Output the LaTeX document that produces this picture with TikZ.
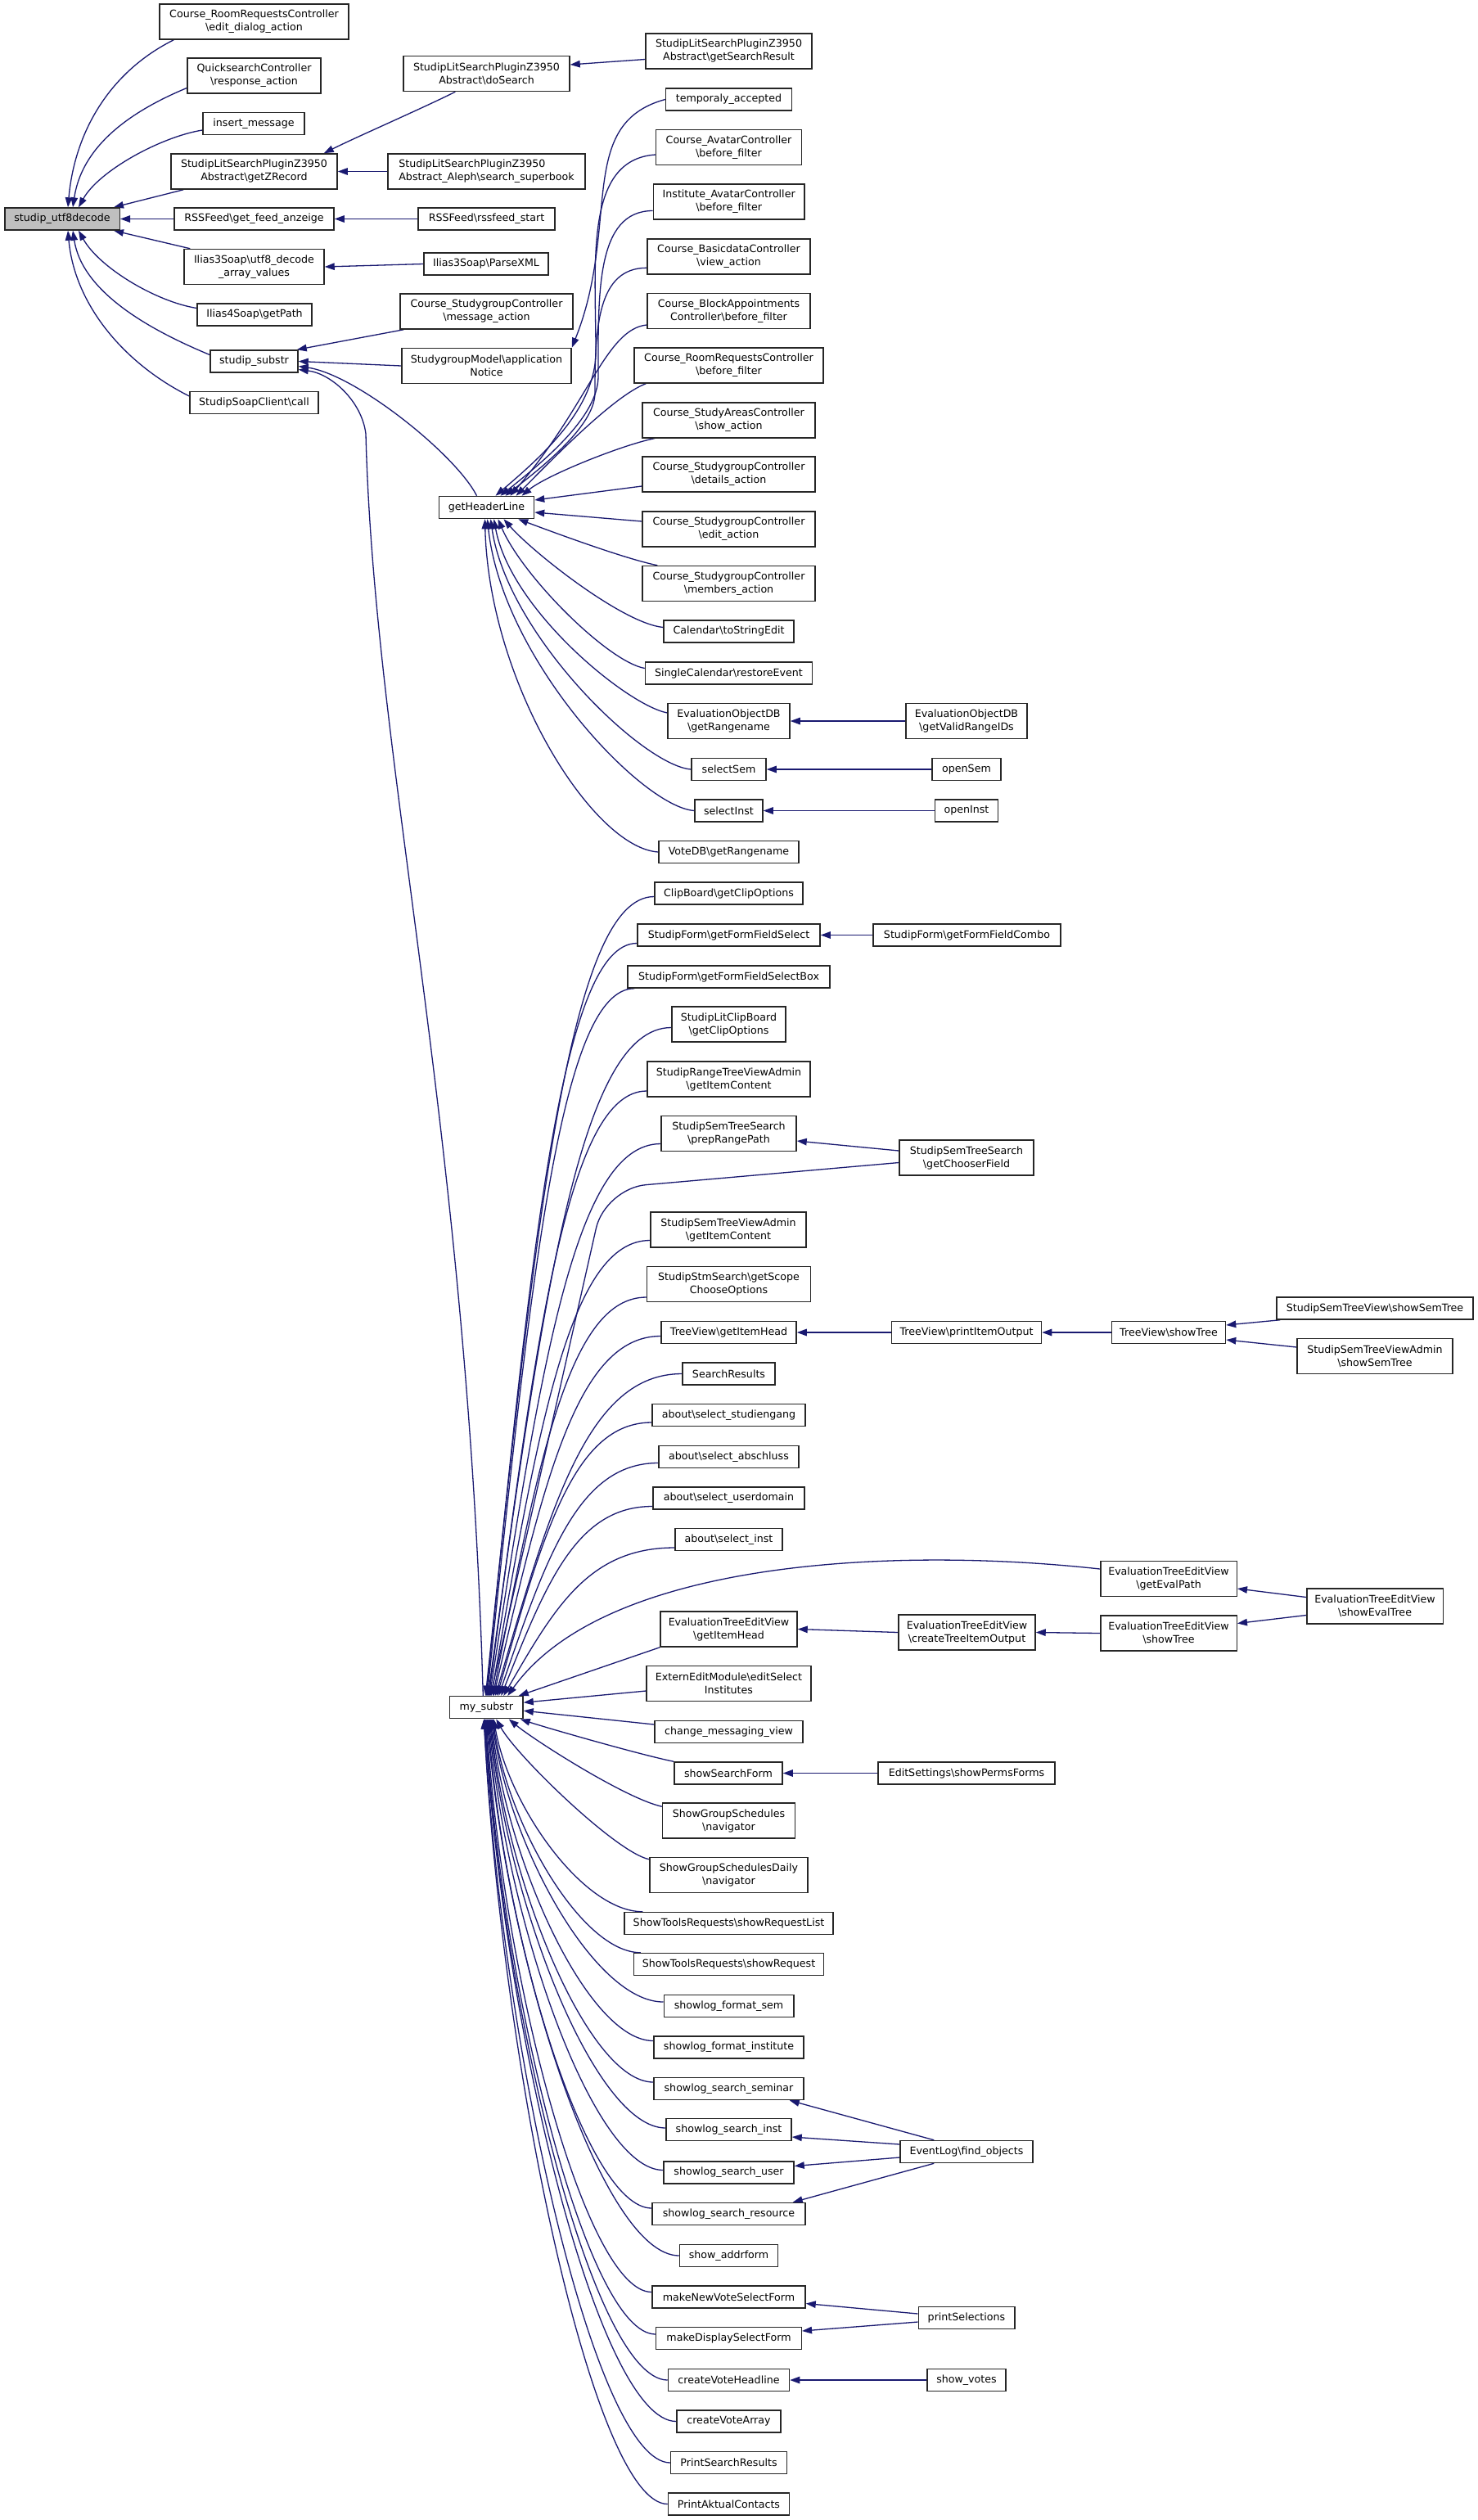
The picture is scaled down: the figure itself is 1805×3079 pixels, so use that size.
\documentclass[tikz,border=0pt]{standalone}
\usepackage{fontspec}
\setmainfont{DejaVu Sans}
\usetikzlibrary{arrows.meta,calc,backgrounds}
\definecolor{edgeblue}{HTML}{191970}
\definecolor{rootgray}{HTML}{BFBFBF}
\newcommand\bsl{\textbackslash}
\newcommand\fnode[6]{\node[fn, minimum width=#4pt, minimum height=#5pt] (#1) at (#2,-#3) {#6};}
\newcommand\fanedge[6]{\draw[call] let \p1=(#1), \p2=(#2) in (\p1) .. controls ({\x1-#3*(\x1-\x2)},{\y1+#4*(\y2-\y1)}) and ({\x2+#5*(\x1-\x2)},{\y2+#6*(\y1-\y2)}) .. (\p2);}
\newcommand\upfan[2]{\fanedge{#1}{#2}{0.5}{0}{0.3}{0.6}}
\newcommand\lowfan[2]{\fanedge{#1}{#2}{0.4}{0}{0.1}{0.45}}
\begin{document}
\begin{tikzpicture}[x=1pt,y=1pt,
  fn/.style={draw=black!85, line width=1.5pt, fill=white, rectangle, inner sep=0pt, align=center, font=\fontsize{12.64pt}{16pt}\selectfont, text=black},
  call/.style={draw=edgeblue, line width=1.3pt, -{Triangle[length=12pt,width=8.5pt]}}]
\useasboundingbox (0,0) rectangle (1805,-3079);
% root
\node[fn, fill=rootgray, minimum width=140.5pt, minimum height=27pt] (u) at (76,-267.5) {studip\_utf8decode};
% column 1
\fnode{a1}{310.5}{26.5}{231}{43}{Course\_RoomRequestsController\\\bsl edit\_dialog\_action}
\fnode{a2}{310.5}{92.5}{163}{43}{QuicksearchController\\\bsl response\_action}
\fnode{a3}{310}{151}{124}{27}{insert\_message}
\fnode{a4}{310.5}{209.5}{203}{43}{StudipLitSearchPluginZ3950\\Abstract\bsl getZRecord}
\fnode{a5}{310.5}{267.5}{195}{27}{RSSFeed\bsl get\_feed\_anzeige}
\fnode{a6}{310.5}{326}{171}{43}{Ilias3Soap\bsl utf8\_decode\\\_array\_values}
\fnode{a7}{311}{384.5}{140}{27}{Ilias4Soap\bsl getPath}
\fnode{ss}{310.5}{441.5}{107}{27}{studip\_substr}
\fnode{a9}{310.5}{492}{157}{27}{StudipSoapClient\bsl call}
% column 2
\fnode{b1}{594.5}{90}{203}{43}{StudipLitSearchPluginZ3950\\Abstract\bsl doSearch}
\node[fn, align=left, minimum width=241pt, minimum height=43pt] (b2) at (594.5,-209.5) {StudipLitSearchPluginZ3950\\Abstract\_Aleph\bsl search\_superbook};
\fnode{b3}{594.5}{267.5}{167}{27}{RSSFeed\bsl rssfeed\_start}
\fnode{b4}{594}{322.5}{152}{27}{Ilias3Soap\bsl ParseXML}
\fnode{b5}{594.5}{380.5}{211}{43}{Course\_StudygroupController\\\bsl message\_action}
\fnode{b6}{594.5}{447}{207}{43}{StudygroupModel\bsl application\\Notice}
\fnode{gh}{594.5}{620}{116}{27}{getHeaderLine}
\fnode{ms}{594.3}{2086.2}{89.5}{27}{my\_substr}
% column 3 (getHeaderLine callers)
\fnode{gsr}{890.5}{62.5}{203}{43}{StudipLitSearchPluginZ3950\\Abstract\bsl getSearchResult}
\fnode{h1}{890.5}{121.5}{154}{27}{temporaly\_accepted}
\fnode{h2}{890.5}{180}{178}{43}{Course\_AvatarController\\\bsl before\_filter}
\fnode{h3}{890.7}{246.5}{184.5}{43}{Institute\_AvatarController\\\bsl before\_filter}
\fnode{h4}{890.5}{313.3}{199}{43}{Course\_BasicdataController\\\bsl view\_action}
\fnode{h5}{890.5}{380}{199}{43}{Course\_BlockAppointments\\Controller\bsl before\_filter}
\fnode{h6}{890.5}{446.5}{231}{43}{Course\_RoomRequestsController\\\bsl before\_filter}
\fnode{h7}{890.5}{513.3}{211}{43}{Course\_StudyAreasController\\\bsl show\_action}
\fnode{h8}{890.5}{579.5}{211}{43}{Course\_StudygroupController\\\bsl details\_action}
\fnode{h9}{890.5}{646.5}{211}{43}{Course\_StudygroupController\\\bsl edit\_action}
\fnode{h10}{890.5}{713}{211}{43}{Course\_StudygroupController\\\bsl members\_action}
\fnode{h11}{890.5}{771.5}{159}{27}{Calendar\bsl toStringEdit}
\fnode{h12}{890.5}{822.5}{204}{27}{SingleCalendar\bsl restoreEvent}
\fnode{h13}{890.5}{881}{149}{43}{EvaluationObjectDB\\\bsl getRangename}
\fnode{h14}{890.5}{940}{91}{27}{selectSem}
\fnode{h15}{890.5}{990.5}{83}{27}{selectInst}
\fnode{h16}{890.5}{1041}{171}{27}{VoteDB\bsl getRangename}
\fnode{g13}{1181}{881}{148}{43}{EvaluationObjectDB\\\bsl getValidRangeIDs}
\fnode{g14}{1181}{940}{84}{27}{openSem}
\fnode{g15}{1181}{990.5}{77.4}{27}{openInst}
% my_substr callers
\fnode{m1}{890.5}{1091.5}{181}{27}{ClipBoard\bsl getClipOptions}
\fnode{m2}{890.5}{1142.5}{223}{27}{StudipForm\bsl getFormFieldSelect}
\fnode{n2}{1181.5}{1142.5}{229}{27}{StudipForm\bsl getFormFieldCombo}
\fnode{m3}{890.5}{1193.5}{247}{27}{StudipForm\bsl getFormFieldSelectBox}
\fnode{m4}{890.5}{1251.5}{139}{43}{StudipLitClipBoard\\\bsl getClipOptions}
\fnode{m5}{890.5}{1318.5}{199}{43}{StudipRangeTreeViewAdmin\\\bsl getItemContent}
\fnode{m6}{890.5}{1385}{165}{43}{StudipSemTreeSearch\\\bsl prepRangePath}
\fnode{n6}{1181}{1414.5}{164}{43}{StudipSemTreeSearch\\\bsl getChooserField}
\fnode{m7}{890}{1502.5}{190}{43}{StudipSemTreeViewAdmin\\\bsl getItemContent}
\fnode{m8}{890.5}{1569}{200}{43}{StudipStmSearch\bsl getScope\\ChooseOptions}
\fnode{m9}{890.5}{1628}{165}{27}{TreeView\bsl getItemHead}
\fnode{n9}{1181}{1628}{183}{27}{TreeView\bsl printItemOutput}
\fnode{p9}{1428}{1628}{139}{27}{TreeView\bsl showTree}
\fnode{q9a}{1680}{1598.5}{240}{27}{StudipSemTreeView\bsl showSemTree}
\fnode{q9b}{1680}{1657}{190}{43}{StudipSemTreeViewAdmin\\\bsl showSemTree}
\fnode{m10}{890.5}{1678.5}{113}{27}{SearchResults}
\fnode{m11}{890.5}{1729}{187}{27}{about\bsl select\_studiengang}
\fnode{m12}{890.5}{1780}{171}{27}{about\bsl select\_abschluss}
\fnode{m13}{890.5}{1830.5}{185}{27}{about\bsl select\_userdomain}
\fnode{m14}{890.5}{1881}{131}{27}{about\bsl select\_inst}
\fnode{p14}{1428}{1929}{166.5}{43}{EvaluationTreeEditView\\\bsl getEvalPath}
\fnode{q15}{1680}{1962.5}{166.5}{43}{EvaluationTreeEditView\\\bsl showEvalTree}
\fnode{m15}{890.5}{1990.5}{167}{43}{EvaluationTreeEditView\\\bsl getItemHead}
\fnode{n15}{1181.5}{1994.5}{167}{43}{EvaluationTreeEditView\\\bsl createTreeItemOutput}
\fnode{p15}{1428}{1995.5}{166.5}{43}{EvaluationTreeEditView\\\bsl showTree}
\fnode{m16}{890.5}{2057}{201}{43}{ExternEditModule\bsl editSelect\\Institutes}
\fnode{m17}{890.5}{2116}{181}{27}{change\_messaging\_view}
\fnode{m18}{890}{2166.5}{132}{27}{showSearchForm}
\fnode{n18}{1181}{2166.5}{216}{27}{EditSettings\bsl showPermsForms}
\fnode{m19}{890.5}{2224.5}{162}{43}{ShowGroupSchedules\\\bsl navigator}
\fnode{m20}{890.5}{2291}{193}{43}{ShowGroupSchedulesDaily\\\bsl navigator}
\fnode{m21}{890.5}{2350}{255}{27}{ShowToolsRequests\bsl showRequestList}
\fnode{m22}{890.5}{2400}{232}{27}{ShowToolsRequests\bsl showRequest}
\fnode{m23}{890.5}{2451}{158.5}{27}{showlog\_format\_sem}
\fnode{m24}{890.5}{2501.5}{183}{27}{showlog\_format\_institute}
\fnode{m25}{890.5}{2552}{183}{27}{showlog\_search\_seminar}
\fnode{m26}{890.5}{2602}{153}{27}{showlog\_search\_inst}
\fnode{n26}{1181}{2629}{162}{27}{EventLog\bsl find\_objects}
\fnode{m27}{890.5}{2654.5}{159}{27}{showlog\_search\_user}
\fnode{m28}{890.5}{2705}{187}{27}{showlog\_search\_resource}
\fnode{m29}{890.5}{2756}{120}{27}{show\_addrform}
\fnode{m30}{890.5}{2806.5}{187}{27}{makeNewVoteSelectForm}
\fnode{n31}{1181}{2832}{117.5}{27}{printSelections}
\fnode{m31}{890.5}{2857}{177.6}{27}{makeDisplaySelectForm}
\fnode{m32}{890.5}{2908}{148}{27}{createVoteHeadline}
\fnode{n32}{1181}{2908}{96}{27}{show\_votes}
\fnode{m33}{890.5}{2958.5}{127}{27}{createVoteArray}
\fnode{m34}{890.5}{3009}{141.6}{27}{PrintSearchResults}
\fnode{m35}{890.5}{3059.5}{148}{27}{PrintAktualContacts}
% waypoints
\coordinate (w2) at (728,-430);
\coordinate (w3) at (731,-460);
\coordinate (w4) at (727,-480);
\coordinate (wq) at (447,-530);
\coordinate (wn6) at (739.4,-1452);
\begin{pgfonlayer}{background}
\fill[white] (0,0) rectangle (1805,-3079);
% fan into studip_utf8decode
\draw[call] ([xshift=18pt]a1.south west) .. controls +(-80,-40) and +(8,90) .. ([xshift=7pt]u.north);
\draw[call] ([yshift=-15pt]a2.west) .. controls +(-60,-25) and +(12,80) .. ([xshift=13pt]u.north);
\draw[call] ([yshift=-8pt]a3.west) .. controls +(-50,-8) and +(25,45) .. ([xshift=20pt]u.north);
\draw[call] ([xshift=16pt]a4.south west) -- ([xshift=-8pt]u.north east);
\draw[call] (a5.west) -- (u.east);
\draw[call] ([xshift=8pt]a6.north west) -- ([xshift=-8pt]u.south east);
\draw[call] ([yshift=8pt]a7.west) .. controls +(-50,8) and +(25,-45) .. ([xshift=20pt]u.south);
\draw[call] ([yshift=8pt]ss.west) .. controls +(-60,25) and +(12,-80) .. ([xshift=13pt]u.south);
\draw[call] ([yshift=8pt]a9.west) .. controls +(-80,40) and +(8,-90) .. ([xshift=7pt]u.south);
% column 2 -> column 1
\draw[call] ([xshift=64pt]b1.south west) .. controls +(-40,-20) and +(40,20) .. ([xshift=-17pt]a4.north east);
\draw[call] (b2.west) -- (a4.east);
\draw[call] (b3.west) -- (a5.east);
\draw[call] (b4.west) -- (a6.east);
\draw[call] ([xshift=5pt]b5.south west) -- ([xshift=-2pt]ss.north east);
\draw[call] (b6.west) -- (ss.east);
\draw[call] ([xshift=-12pt]gh.north) .. controls +(-25,50) and +(70,-10) .. ([yshift=-6pt]ss.east);
\draw[call] ([xshift=-4pt]ms.north) .. controls +(-20,700) and +(10,-400) .. (wq) .. controls +(-5,40) and +(40,-5) .. ([yshift=-10pt]ss.east);
\draw[call] ([yshift=-10pt]gsr.west) -- ([yshift=11pt]b1.east);
\draw[call] (h1.west) .. controls +(-110,-30) and +(60,150) .. (b6.north east);
% fan into getHeaderLine
\draw[call] ([yshift=-9pt]h2.west) .. controls +(-87,-6) and +(0,110) .. (w2) .. controls +(0,-70) and +(55,47) .. ([xshift=11pt]gh.north);
\draw[call] ([yshift=-11pt]h3.west) .. controls +(-70,0) and +(0,100) .. (w3) .. controls +(0,-50) and +(50,40) .. ([xshift=17pt]gh.north);
\draw[call] ([yshift=-14pt]h4.west) .. controls +(-60,0) and +(0,80) .. (w4) .. controls +(0,-40) and +(45,35) .. ([xshift=23pt]gh.north);
\draw[call] ([yshift=-17pt]h5.west) .. controls +(-50,-5) and +(95,110) .. ([xshift=29pt]gh.north);
\draw[call] ([xshift=15pt]h6.south west) .. controls +(-40,-15) and +(40,40) .. ([xshift=36pt]gh.north);
\draw[call] ([xshift=16pt]h7.south west) .. controls +(-40,-8) and +(30,25) .. ([xshift=43pt]gh.north);
\draw[call] ([yshift=-14.5pt]h8.west) -- ([yshift=9pt]gh.east);
\draw[call] ([yshift=9.5pt]h9.west) -- ([yshift=-6pt]gh.east);
\draw[call] ([xshift=19pt]h10.north west) .. controls +(-40,8) and +(40,-15) .. ([xshift=-20pt]gh.south east);
\draw[call] ([yshift=5pt]h11.west) .. controls +(-50,5) and +(35,-40) .. ([xshift=21pt]gh.south);
\draw[call] ([yshift=6pt]h12.west) .. controls +(-45,8) and +(30,-70) .. ([xshift=14pt]gh.south);
\draw[call] ([yshift=10pt]h13.west) .. controls +(-50,10) and +(20,-110) .. ([xshift=9pt]gh.south);
\draw[call] (h14.west) .. controls +(-60,5) and +(20,-140) .. ([xshift=5pt]gh.south);
\draw[call] (h15.west) .. controls +(-65,5) and +(18,-170) .. ([xshift=1pt]gh.south);
\draw[call] (h16.west) .. controls +(-80,5) and +(5,-200) .. ([xshift=-2pt]gh.south);
\draw[call] (g13.west) -- (h13.east);
\draw[call] (g14.west) -- (h14.east);
\draw[call] (g15.west) -- (h15.east);
% fan into my_substr (upper)
\upfan{[yshift=-4pt]m1.west}{[xshift=-1pt]ms.north}
\upfan{[yshift=-10pt]m2.west}{ms.north}
\upfan{[xshift=9pt]m3.south west}{[xshift=1pt]ms.north}
\upfan{[yshift=-4pt]m4.west}{[xshift=2pt]ms.north}
\upfan{[yshift=-14.5pt]m5.west}{[xshift=3pt]ms.north}
\upfan{[yshift=-12.5pt]m6.west}{[xshift=4pt]ms.north}
\upfan{[yshift=-13pt]m7.west}{[xshift=6pt]ms.north}
\upfan{[yshift=-16pt]m8.west}{[xshift=8pt]ms.north}
\upfan{[yshift=-4.5pt]m9.west}{[xshift=9pt]ms.north}
\upfan{m10.west}{[xshift=11pt]ms.north}
\upfan{[yshift=-9pt]m11.west}{[xshift=13pt]ms.north}
\upfan{[yshift=-7.5pt]m12.west}{[xshift=15pt]ms.north}
\upfan{[yshift=-10pt]m13.west}{[xshift=18pt]ms.north}
\upfan{[yshift=-10pt]m14.west}{[xshift=21pt]ms.north}
\draw[call, rounded corners=50pt] ([yshift=-6pt]n6.west) -- (wn6) -- ([xshift=5pt]ms.north);
\draw[call] ([yshift=12pt]p14.west) .. controls +(-244.5,27) and +(120,168) .. ([xshift=26pt]ms.north);
\draw[call] (m15.south west) -- ([xshift=-6pt]ms.north east);
\draw[call] ([yshift=-9pt]m16.west) -- ([yshift=6pt]ms.east);
\draw[call] ([yshift=9pt]m17.west) -- ([yshift=-4pt]ms.east);
\draw[call] (m18.north west) .. controls +(-40,8) and +(30,-10) .. ([xshift=-4pt]ms.south east);
\draw[call] ([yshift=-5pt]m19.north west) .. controls +(-45,10) and +(30,-25) .. ([xshift=-18pt]ms.south east);
\draw[call] ([yshift=-3pt]m20.north west) .. controls +(-40,8) and +(25,-45) .. ([xshift=12pt]ms.south);
% fan into my_substr (lower)
\lowfan{[xshift=23pt]m21.north west}{[xshift=9pt]ms.south}
\lowfan{[xshift=9pt]m22.north west}{[xshift=8pt]ms.south}
\lowfan{[yshift=5pt]m23.west}{[xshift=7pt]ms.south}
\lowfan{[yshift=8pt]m24.west}{[xshift=6pt]ms.south}
\lowfan{[yshift=8pt]m25.west}{[xshift=5pt]ms.south}
\lowfan{[yshift=2pt]m26.west}{[xshift=4pt]ms.south}
\lowfan{[yshift=3pt]m27.west}{[xshift=3pt]ms.south}
\lowfan{[yshift=7pt]m28.west}{[xshift=2pt]ms.south}
\lowfan{m29.west}{[xshift=1pt]ms.south}
\lowfan{[yshift=6pt]m30.west}{ms.south}
\lowfan{[yshift=5pt]m31.west}{[xshift=-1pt]ms.south}
\lowfan{m32.west}{[xshift=-2pt]ms.south}
\lowfan{m33.west}{[xshift=-2pt]ms.south}
\lowfan{m34.west}{[xshift=-3pt]ms.south}
\lowfan{m35.west}{[xshift=-3pt]ms.south}
% right-hand edges
\draw[call] (n2.west) -- (m2.east);
\draw[call] ([yshift=8.5pt]n6.west) -- ([yshift=-9pt]m6.east);
\draw[call] (n9.west) -- (m9.east);
\draw[call] (p9.west) -- (n9.east);
\draw[call] ([xshift=5pt]q9a.south west) -- ([yshift=9pt]p9.east);
\draw[call] ([yshift=11pt]q9b.west) -- ([yshift=-9pt]p9.east);
\draw[call] ([yshift=11pt]q15.west) -- ([yshift=-12pt]p14.east);
\draw[call] ([yshift=-11pt]q15.west) -- ([yshift=12pt]p15.east);
\draw[call] (p15.west) -- (n15.east);
\draw[call] (n15.west) -- (m15.east);
\draw[call] (n18.west) -- (m18.east);
\draw[call] ([xshift=42pt]n26.north west) -- ([xshift=-18pt]m25.south east);
\draw[call] ([yshift=9pt]n26.west) -- ([yshift=-9pt]m26.east);
\draw[call] ([yshift=-7pt]n26.west) -- ([yshift=8pt]m27.east);
\draw[call] ([xshift=42pt]n26.south west) -- ([xshift=-16pt]m28.north east);
\draw[call] ([yshift=5pt]n31.west) -- ([yshift=-8pt]m30.east);
\draw[call] ([yshift=-5pt]n31.west) -- ([yshift=9pt]m31.east);
\draw[call] (n32.west) -- (m32.east);
\end{pgfonlayer}
\end{tikzpicture}
\end{document}
